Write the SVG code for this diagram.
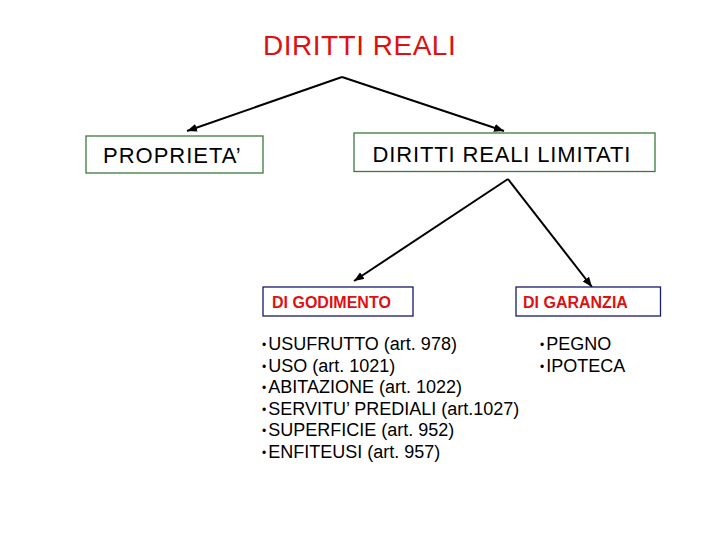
<svg xmlns="http://www.w3.org/2000/svg" width="720" height="540" viewBox="0 0 720 540">
<defs>
<marker id="ah" markerUnits="userSpaceOnUse" markerWidth="11" markerHeight="9" refX="10" refY="4" orient="auto">
<path d="M0,0 L10,4 L0,8 z" fill="#000"/>
</marker>
<style>
.t{font-family:"Liberation Sans",Arial,sans-serif;fill:#000}
.g{fill:#fff;stroke:#3a7a3a;stroke-width:1.3}
.n{fill:#fff;stroke:#1a1a6e;stroke-width:1.3}
.r{font-family:"Liberation Sans",Arial,sans-serif;font-weight:bold;font-size:16px;fill:#dd1111}
.l{font-size:18px}
.b{font-size:12px}
.c{stroke:#000;stroke-width:2;fill:none;marker-end:url(#ah)}
</style>
</defs>
<rect width="720" height="540" fill="#fff"/>
<g id="title">
<text class="t" x="263" y="55" font-size="28" letter-spacing="0.5" style="fill:#dd1111">DIRITTI REALI</text>
</g>
<g id="connectors">
<path class="c" d="M342,77 L187,131"/>
<path class="c" d="M342,77 L504,131"/>
<path class="c" d="M508,179 L354,281"/>
<path class="c" d="M508,179 L592,287"/>
</g>
<g id="proprieta">
<rect class="g" x="86" y="136" width="177" height="37"/>
<text class="t" x="103" y="163" font-size="22" letter-spacing="1">PROPRIETA’</text>
</g>
<g id="limitati">
<rect class="g" x="354" y="133" width="301" height="38.5"/>
<text class="t" x="372.5" y="161.5" font-size="22" letter-spacing="0.85">DIRITTI REALI LIMITATI</text>
</g>
<g id="godimento">
<rect class="n" x="263" y="287" width="150" height="29"/>
<text class="r" x="272" y="307.7">DI GODIMENTO</text>
</g>
<g id="garanzia">
<rect class="n" x="516" y="287" width="144.5" height="29"/>
<text class="r" x="523" y="307.7">DI GARANZIA</text>
</g>
<g id="list-godimento" class="t l">
<text x="262" y="350"><tspan class="b" dy="-1">•</tspan><tspan dx="2" dy="1">USUFRUTTO (art. 978)</tspan></text>
<text x="262" y="371.6"><tspan class="b" dy="-1">•</tspan><tspan dx="2" dy="1">USO (art. 1021)</tspan></text>
<text x="262" y="393.2"><tspan class="b" dy="-1">•</tspan><tspan dx="2" dy="1">ABITAZIONE (art. 1022)</tspan></text>
<text x="262" y="414.8"><tspan class="b" dy="-1">•</tspan><tspan dx="2" dy="1">SERVITU’ PREDIALI (art.1027)</tspan></text>
<text x="262" y="436.4"><tspan class="b" dy="-1">•</tspan><tspan dx="2" dy="1">SUPERFICIE (art. 952)</tspan></text>
<text x="262" y="458"><tspan class="b" dy="-1">•</tspan><tspan dx="2" dy="1">ENFITEUSI (art. 957)</tspan></text>
</g>
<g id="list-garanzia" class="t l">
<text x="540" y="350"><tspan class="b" dy="-1">•</tspan><tspan dx="2" dy="1">PEGNO</tspan></text>
<text x="540" y="371.6"><tspan class="b" dy="-1">•</tspan><tspan dx="2" dy="1">IPOTECA</tspan></text>
</g>
</svg>
